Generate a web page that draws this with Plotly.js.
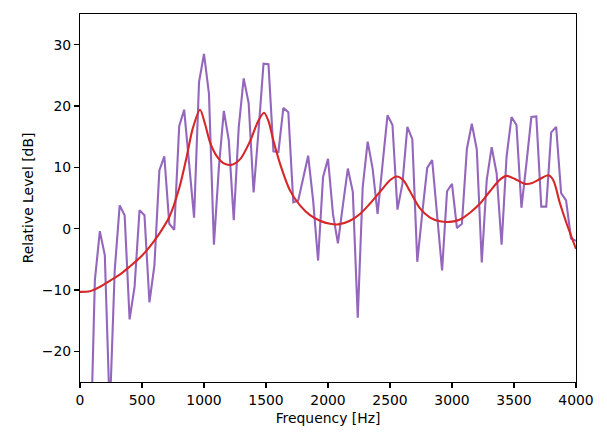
<!DOCTYPE html>
<html>
<head>
<meta charset="utf-8">
<script src="https://cdn.plot.ly/plotly-3.0.1.min.js"></script>
<style>html,body{margin:0;padding:0;background:#fff;}#chart{width:607px;height:436px;}</style>
</head>
<body>
<div id="chart"></div>
<script>
const freqHz = [0,40,80,120,160,200,240,280,320,360,400,440,480,520,560,600,640,680,720,760,
  800,840,880,920,960,1000,1040,1080,1120,1160,1200,1240,1280,1320,1360,1400,1440,1480,1520,1560,
  1600,1640,1680,1720,1760,1800,1840,1880,1920,1960,2000,2040,2080,2120,2160,2200,2240,2280,2320,2360,
  2400,2440,2480,2520,2560,2600,2640,2680,2720,2760,2800,2840,2880,2920,2960,3000,3040,3080,3120,3160,
  3200,3240,3280,3320,3360,3400,3440,3480,3520,3560,3600,3640,3680,3720,3760,3800,3840,3880,3920,3960,4000];
const spectrumDb = [-50,-45,-40,-8.4,-0.4,-4.3,-30,-6.8,3.8,2.2,-14.8,-9.5,3.0,2.2,-12.0,-6.0,9.5,11.8,0.8,-0.2,
  16.7,19.4,10.5,1.8,23.9,28.5,22.0,-2.6,10.0,19.2,14.4,1.4,16.5,24.5,20.5,5.9,16.0,26.9,26.8,12.6,
  12.5,19.7,19.0,4.3,4.6,8.2,11.9,4.6,-5.2,8.4,11.4,2.4,-2.4,3.8,9.8,6.0,-14.5,6.8,14.2,9.8,
  2.4,10.5,18.5,16.9,3.1,7.3,16.6,14.6,-5.4,2.5,9.9,11.2,2.0,-6.8,6.1,7.3,0.1,0.8,13.0,17.1,
  12.9,-5.5,7.9,13.3,9.0,-2.6,11.7,18.2,16.9,3.4,10.6,18.2,18.3,3.6,3.6,15.7,16.6,5.8,4.6,-1.6,-2.0];
const envFreqHz = [0,80,160,240,320,400,480,560,640,720,800,860,910,968,1008,1048,1100,1156,1218,1290,
  1370,1438,1484,1519,1559,1613,1694,1774,1855,1935,2016,2083,2177,2258,2339,2419,2500,2554,2608,2661,
  2742,2823,2903,2984,3065,3145,3226,3306,3387,3441,3508,3589,3642,3710,3777,3817,3871,3925,3965,4000];
const envDb = [-10.3,-10.2,-9.5,-8.5,-7.5,-6.2,-4.8,-3.0,-0.8,1.9,6.6,11.7,16.4,19.4,17.1,14.1,11.9,10.7,10.4,11.3,
  14.2,17.6,18.9,17.6,14.4,10.6,6.2,3.8,2.2,1.3,0.8,0.7,1.3,2.4,4.1,6.0,7.9,8.5,7.9,6.1,
  3.3,1.8,1.2,1.1,1.5,2.6,4.1,6.1,8.0,8.6,8.1,7.3,7.4,8.1,8.7,7.9,4.1,0.8,-1.4,-3.3];
const xTicks = [0,500,1000,1500,2000,2500,3000,3500,4000];
const yTicks = [-20,-10,0,10,20,30];

const font = {family: 'DejaVu Sans, sans-serif', size: 13.9, color: '#000'};
const traces = [
  {x: freqHz, y: spectrumDb, type: 'scatter', mode: 'lines',
   line: {color: '#9467bd', width: 2.1}, hoverinfo: 'skip'},
  {x: envFreqHz, y: envDb, type: 'scatter', mode: 'lines',
   line: {color: '#d62728', width: 2.1, shape: 'spline', smoothing: 0.8}, hoverinfo: 'skip'}
];
const axisCommon = {
  showgrid: false, zeroline: false, showline: true, mirror: true,
  linecolor: '#000', linewidth: 1.1, ticks: 'outside', ticklen: 5, tickwidth: 1.1,
  tickcolor: '#000', tickfont: font
};
const layout = {
  width: 607, height: 436,
  margin: {l: 80, r: 31, t: 14, b: 54, pad: 0},
  paper_bgcolor: '#fff', plot_bgcolor: '#fff',
  showlegend: false, font: font,
  xaxis: Object.assign({}, axisCommon, {
    range: [0, 4000], tickmode: 'array', tickvals: xTicks, ticktext: xTicks.map(String),
    title: {text: 'Frequency [Hz]', font: font, standoff: 6}
  }),
  yaxis: Object.assign({}, axisCommon, {
    range: [-25, 35], tickmode: 'array', tickvals: yTicks,
    title: {text: 'Relative Level [dB]', font: font, standoff: 4}
  })
};
Plotly.newPlot('chart', traces, layout, {staticPlot: true, displayModeBar: false});
</script>
</body>
</html>
